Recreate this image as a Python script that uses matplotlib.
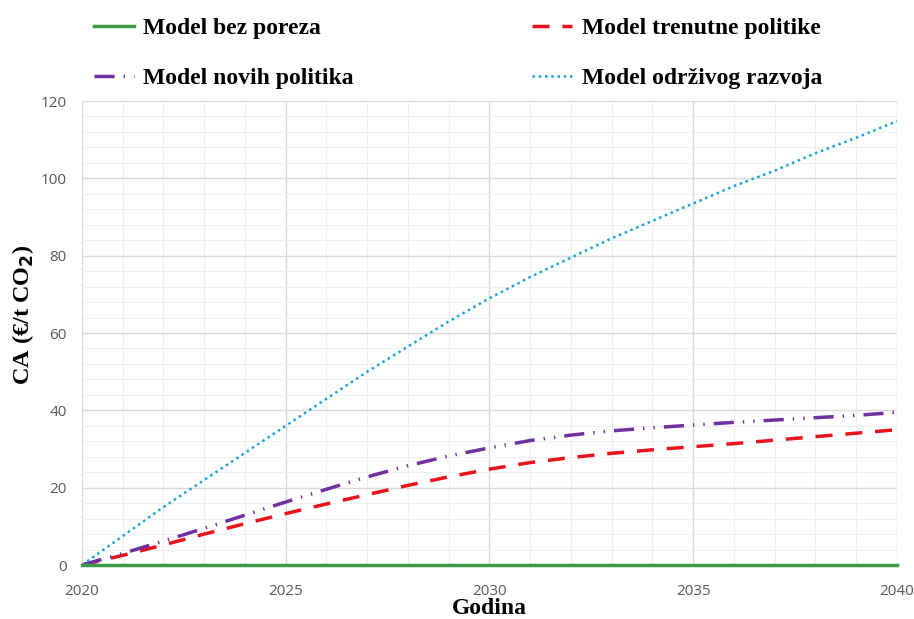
import numpy as np
import matplotlib.pyplot as plt
from matplotlib.ticker import MultipleLocator

years = list(range(2020, 2041))

bez_poreza = [0] * 21
trenutne_politike = [0, 2.5, 5.2, 8.0, 10.7, 13.3, 15.8, 18.2, 20.6, 22.8, 24.8,
                     26.5, 27.8, 28.9, 29.8, 30.6, 31.4, 32.3, 33.2, 34.1, 35.0]
novih_politika = [0, 3.0, 6.2, 9.5, 12.9, 16.3, 19.6, 22.8, 25.7, 28.2, 30.3,
                  32.2, 33.6, 34.7, 35.5, 36.2, 36.9, 37.5, 38.1, 38.7, 39.5]
odrzivog_razvoja = [0, 7.5, 15.0, 22.0, 29.0, 36.0, 43.0, 50.0, 56.5, 63.0, 69.0,
                    74.5, 79.5, 84.5, 89.0, 93.5, 98.0, 102.0, 106.5, 110.5, 114.8]

labels = ['Model bez poreza', 'Model trenutne politike',
          'Model novih politika', 'Model održivog razvoja']

fig = plt.figure(figsize=(9.14, 6.19), dpi=100)
ax = fig.add_axes([0.0897, 0.0872, 0.8917, 0.7496])

l_red, = ax.plot(years, trenutne_politike, color='#e8131b', lw=2.5,
                 linestyle=(0, (4.9, 3.7)), label=labels[1])
l_purple, = ax.plot(years, novih_politika, color='#7030a0', lw=2.5,
                    linestyle=(0, (5.8, 2.6, 0.4, 2.6, 0.4, 2.6)), label=labels[2])
l_blue, = ax.plot(years, odrzivog_razvoja, color='#1aa3d9', lw=1.8,
                  linestyle=(0, (1, 1.5)), label=labels[3])
l_green, = ax.plot(years, bez_poreza, color='#3d9a4a', lw=2.5, label=labels[0],
                   clip_on=False, zorder=5)

ax.set_xlim(2020, 2040)
ax.set_ylim(0, 120)
ax.xaxis.set_major_locator(MultipleLocator(5))
ax.xaxis.set_minor_locator(MultipleLocator(1))
ax.yaxis.set_major_locator(MultipleLocator(20))
ax.yaxis.set_minor_locator(MultipleLocator(4))
ax.grid(True, which='major', color='#d9d9d9', lw=1.0)
ax.grid(True, which='minor', color='#efefef', lw=0.8)
ax.set_axisbelow(True)
for s in ax.spines.values():
    s.set_visible(False)
ax.tick_params(which='both', length=0)
ax.tick_params(axis='both', labelsize=11, labelcolor='#595959')
ax.tick_params(axis='x', pad=13.5)
ax.tick_params(axis='y', pad=11)
for t in ax.get_xticklabels() + ax.get_yticklabels():
    t.set_family('Open Sans')

ax.set_xlabel('Godina', family='Liberation Serif', fontweight='bold', fontsize=17)
ax.xaxis.set_label_coords(0.5, -0.071)
ax.set_ylabel('CA (€/t CO$_\\mathbf{2}$)', family='Liberation Serif',
              fontweight='bold', fontsize=17.5)
ax.yaxis.set_label_coords(-0.056, 0.54)

fig.legend([l_green, l_purple, l_red, l_blue],
           [labels[0], labels[2], labels[1], labels[3]],
           ncol=2, loc='upper left', bbox_to_anchor=(82 / 914, 0.991),
           frameon=False, borderpad=0, handlelength=1.7, handletextpad=0.4,
           columnspacing=7.55, labelspacing=1.2,
           prop={'family': 'Liberation Serif', 'weight': 'bold', 'size': 17})

fig.savefig('out.png', dpi=100)
